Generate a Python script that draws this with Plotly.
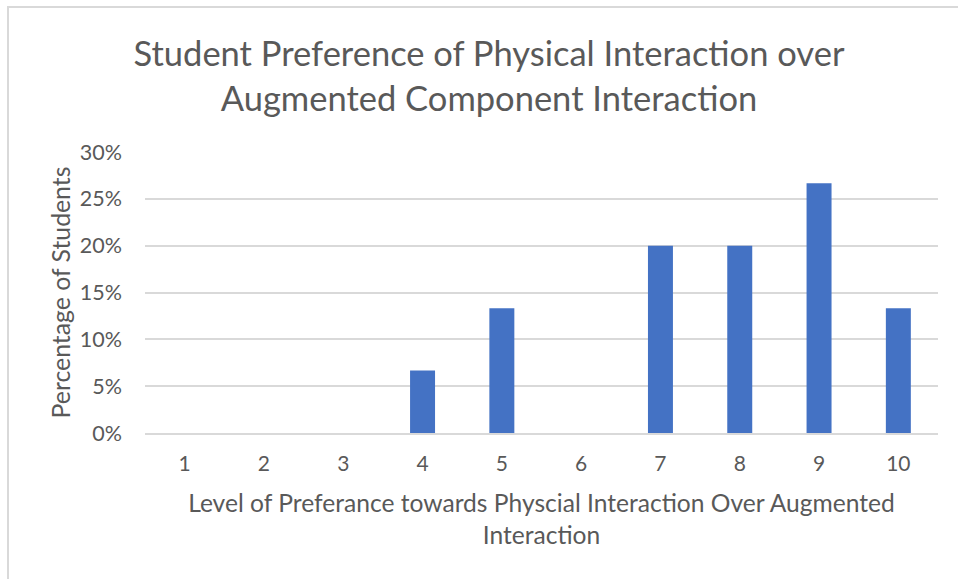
import plotly.graph_objects as go

# Survey results: share of students at each preference level
levels = ["1", "2", "3", "4", "5", "6", "7", "8", "9", "10"]
share = [0.0, 0.0, 0.0, 0.0667, 0.1333, 0.0, 0.20, 0.20, 0.2667, 0.1333]
y_ticks = [0, 0.05, 0.10, 0.15, 0.20, 0.25, 0.30]
y_tick_text = ["0%", "5%", "10%", "15%", "20%", "25%", "30%"]

title_text = ("Student Preference of Physical Interaction over<br>"
              "Augmented Component Interaction")
x_title = ("Level of Preferance towards Physcial Interaction Over Augmented<br>"
           "Interaction")
y_title = "Percentage of Students"

TEXT = "#595959"
FONT = "Lato"

W, H = 958, 579
L, R, T, B = 145, 20, 152, 146
pw, ph = W - L - R, H - T - B


def px_x(px):
    return (px - L) / pw


def px_y(py):
    return (H - B - py) / ph


fig = go.Figure(
    go.Bar(
        x=levels,
        y=share,
        marker=dict(color="#4472C4", line=dict(width=0)),
        hoverinfo="x+y",
    )
)

fig.update_layout(
    width=W,
    height=H,
    margin=dict(l=L, r=R, t=T, b=B),
    paper_bgcolor="white",
    plot_bgcolor="white",
    bargap=0.685,
    showlegend=False,
    font=dict(family=FONT, color=TEXT),
    title=dict(
        text=title_text,
        font=dict(family=FONT, size=34.5, color=TEXT),
        x=489 / W,
        xanchor="center",
        xref="container",
        y=1 - 66 / H,
        yanchor="middle",
        yref="container",
    ),
    xaxis=dict(
        type="category",
        showgrid=False,
        showline=True,
        linecolor="#d9d9d9",
        linewidth=1.5,
        ticks="",
        tickfont=dict(size=21, color=TEXT),
        ticklabelstandoff=11,
        title=dict(text=x_title, font=dict(size=24.6, color=TEXT), standoff=21),
    ),
    yaxis=dict(
        range=[0, 0.30],
        tickvals=y_ticks,
        ticktext=y_tick_text,
        showgrid=True,
        gridcolor="#d9d9d9",
        gridwidth=1.5,
        zeroline=False,
        showline=False,
        ticks="",
        tickfont=dict(size=21.5, color=TEXT),
        ticklabelstandoff=22,
        title=dict(text=y_title, font=dict(size=24.8, color=TEXT), standoff=2),
    ),
    shapes=[
        dict(
            type="rect",
            xref="paper",
            yref="paper",
            x0=px_x(8),
            x1=px_x(W + 20),
            y0=px_y(H + 20),
            y1=px_y(7),
            line=dict(color="#d9d9d9", width=2),
            fillcolor="rgba(0,0,0,0)",
            layer="below",
        )
    ],
)

fig.write_html("out.html")
